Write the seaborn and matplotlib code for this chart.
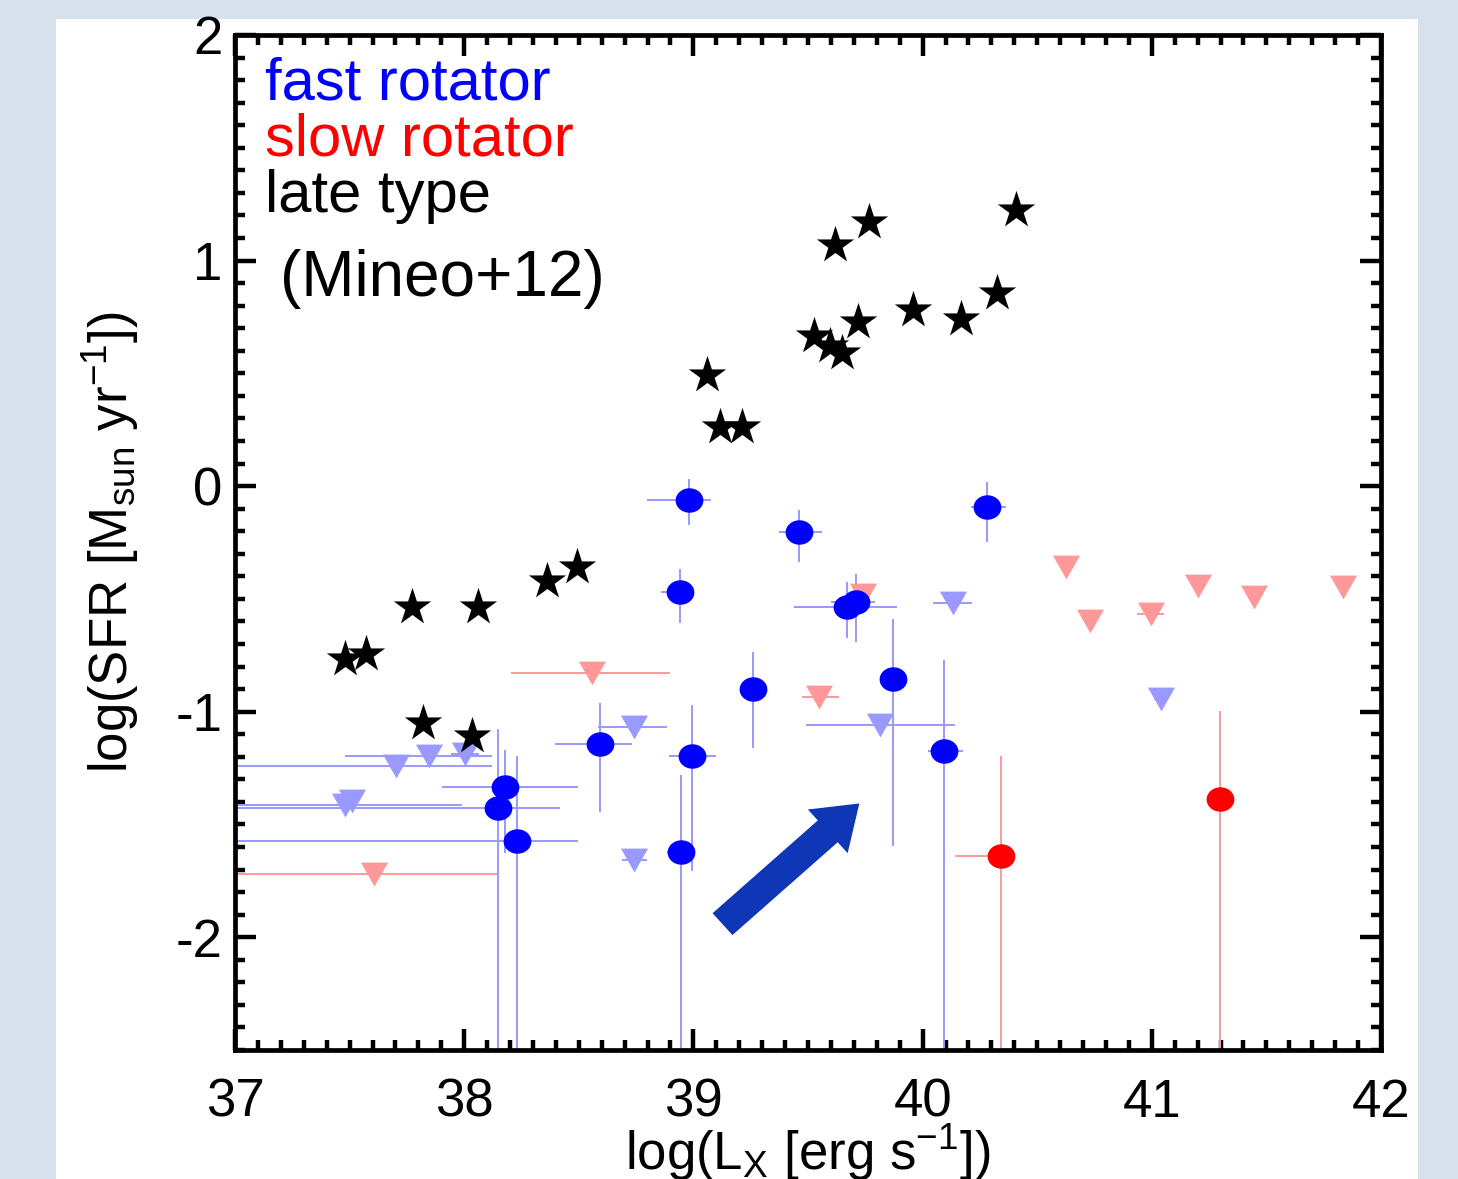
import numpy as np
import pandas as pd
import matplotlib.pyplot as plt
import seaborn as sns
from matplotlib.path import Path
from matplotlib.patches import Rectangle, FancyArrow
from matplotlib.ticker import MultipleLocator

sns.set_theme(style="white")
plt.rcParams["font.family"] = ["Liberation Sans", "DejaVu Sans"]
plt.rcParams["mathtext.fontset"] = "custom"
plt.rcParams["mathtext.rm"] = "Liberation Sans"
plt.rcParams["mathtext.it"] = "Liberation Sans:italic"
plt.rcParams["axes.unicode_minus"] = False
for key in ["text.color", "axes.labelcolor", "xtick.color", "ytick.color"]:
    plt.rcParams[key] = "black"

# fast rotators with detections (log Lx, log SFR, errors)
fast_x = [38.979, 39.459, 38.940, 40.282, 39.672, 39.711, 39.258, 39.873,
          40.095, 38.992, 38.944, 38.591, 38.177, 38.146, 38.229]
fast_y = [-0.062, -0.204, -0.469, -0.093, -0.535, -0.513, -0.898, -0.854,
          -1.173, -1.195, -1.624, -1.142, -1.336, -1.429, -1.575]
fast_xlo = [0.183, 0.087, 0.083, 0.070, 0.231, 0.109, 0.0, 0.055,
            0.070, 0.100, 0.060, 0.196, 0.275, 1.300, 1.400]
fast_xhi = [0.096, 0.100, 0.057, 0.083, 0.218, 0.083, 0.0, 0.055,
            0.083, 0.105, 0.050, 0.140, 0.318, 0.270, 0.266]
fast_ylo = [0.110, 0.133, 0.137, 0.155, 0.137, 0.177, 0.265, 0.743,
            1.500, 0.513, 1.000, 0.305, 0.292, 1.200, 1.000]
fast_yhi = [0.093, 0.097, 0.100, 0.110, 0.110, 0.124, 0.164, 0.265,
            0.400, 0.226, 0.345, 0.180, 0.164, 0.350, 0.380]

# fast rotators, upper limits
fastlim_x = [37.702, 37.846, 38.003, 37.480, 37.510, 38.739, 38.739,
             39.816, 40.134, 41.041]
fastlim_y = [-1.239, -1.195, -1.186, -1.416, -1.398, -1.066, -1.659,
             -1.058, -0.518, -0.942]
fastlim_xlo = [0.800, 0.366, 0.060, 0.600, 0.0, 0.157, 0.052, 0.323, 0.087, 0.030]
fastlim_xhi = [0.418, 0.275, 0.060, 0.510, 0.0, 0.144, 0.057, 0.327, 0.083, 0.030]

# slow rotators with detections
slow_x = [40.343, 41.298]
slow_y = [-1.642, -1.385]
slow_xlo = [0.200, 0.0]
slow_xhi = [0.0, 0.0]
slow_ylo = [1.000, 1.200]
slow_yhi = [0.447, 0.390]

# slow rotators, upper limits
slowlim_x = [38.556, 37.606, 39.550, 39.742, 40.627, 40.731, 40.997,
             41.202, 41.446, 41.834]
slowlim_y = [-0.827, -1.721, -0.934, -0.482, -0.358, -0.597, -0.566,
             -0.442, -0.491, -0.447]
slowlim_xlo = [0.353, 0.700, 0.078, 0.0, 0.0, 0.0, 0.060, 0.0, 0.0, 0.0]
slowlim_xhi = [0.340, 0.536, 0.087, 0.0, 0.0, 0.0, 0.057, 0.0, 0.0, 0.0]

# late type galaxies (Mineo+12)
late_x = [37.480, 37.571, 37.772, 38.059, 38.360, 38.491, 37.820, 38.033,
          39.058, 39.114, 39.210, 39.528, 39.594, 39.650, 39.616, 39.768,
          39.720, 39.956, 40.169, 40.326, 40.409]
late_y = [-0.765, -0.743, -0.535, -0.535, -0.420, -0.358, -1.049, -1.106,
          0.491, 0.261, 0.261, 0.664, 0.619, 0.588, 1.071, 1.173,
          0.726, 0.783, 0.739, 0.854, 1.226]

legend_labels = ["fast rotator", "slow rotator", "late type"]
legend_colors = ["#0000ff", "#ff0000", "#000000"]

BLUE = "#0000ff"
RED = "#ff0000"
LBLUE = "#9999ff"
LRED = "#ff9999"

# slightly flattened markers, as in the original
t = np.linspace(0, 2 * np.pi, 60)
ellipse = Path(np.column_stack([np.cos(t), 0.88 * np.sin(t)]), closed=True)
tri_down = Path([(-1, 0.88), (1, 0.88), (0, -0.88), (-1, 0.88)], closed=True)

fig = plt.figure(figsize=(14.58, 11.79), dpi=100, facecolor="#d6e1eb")
fig.add_artist(Rectangle((56 / 1458, 0), (1418 - 56) / 1458, (1179 - 19) / 1179,
                         transform=fig.transFigure, facecolor="white",
                         edgecolor="none", zorder=-1))
ax = fig.add_axes([235 / 1458, 1 - 1050 / 1179, (1381 - 235) / 1458, (1050 - 35) / 1179])
ax.set_facecolor("white")

# error bars
ekw = dict(fmt="none", elinewidth=1.4, capsize=0, zorder=1)
ax.errorbar(fast_x, fast_y, xerr=[fast_xlo, fast_xhi], yerr=[fast_ylo, fast_yhi],
            ecolor=LBLUE, **ekw)
ax.errorbar(fastlim_x, fastlim_y, xerr=[fastlim_xlo, fastlim_xhi], ecolor=LBLUE, **ekw)
ax.errorbar(slow_x, slow_y, xerr=[slow_xlo, slow_xhi], yerr=[slow_ylo, slow_yhi],
            ecolor=LRED, **ekw)
ax.errorbar(slowlim_x, slowlim_y, xerr=[slowlim_xlo, slowlim_xhi], ecolor=LRED, **ekw)

# markers
sns.scatterplot(x=slowlim_x, y=slowlim_y, ax=ax, marker=tri_down, s=380,
                color=LRED, linewidth=0, zorder=2)
sns.scatterplot(x=fastlim_x, y=fastlim_y, ax=ax, marker=tri_down, s=380,
                color=LBLUE, linewidth=0, zorder=2)
sns.scatterplot(x=fast_x, y=fast_y, ax=ax, marker=ellipse, s=400,
                color=BLUE, linewidth=0, zorder=3)
sns.scatterplot(x=slow_x, y=slow_y, ax=ax, marker=ellipse, s=400,
                color=RED, linewidth=0, zorder=3)
sns.scatterplot(x=late_x, y=late_y, ax=ax, marker="*", s=800,
                color="black", linewidth=0, zorder=4)

# arrow
ax.add_patch(FancyArrow(39.127, -1.942, 0.597, 0.535, width=0.13, head_width=0.26,
                        head_length=0.185, length_includes_head=True,
                        color="#0f36b6", linewidth=0, zorder=5))

# legend as coloured text
for i, (lab, col) in enumerate(zip(legend_labels, legend_colors)):
    ax.text(37.13, 1.716 - i * 0.25, lab, color=col, fontsize=43, va="baseline")
ax.text(37.196, 0.841, "(Mineo+12)", color="black", fontsize=46, va="baseline")

ax.set_xlim(37, 42)
ax.set_ylim(-2.5, 2)
ax.xaxis.set_major_locator(MultipleLocator(1))
ax.xaxis.set_minor_locator(MultipleLocator(0.1))
ax.yaxis.set_major_locator(MultipleLocator(1))
ax.yaxis.set_minor_locator(MultipleLocator(0.1))
ax.tick_params(which="both", direction="in", top=True, right=True, bottom=True,
               left=True, width=3.2, color="black")
ax.tick_params(which="major", length=15)
ax.tick_params(which="minor", length=7)
ax.tick_params(axis="x", which="major", labelsize=38, pad=20)
ax.tick_params(axis="y", which="major", labelsize=38, pad=9)
for sp in ax.spines.values():
    sp.set_linewidth(3.4)
    sp.set_color("black")

ax.set_xlabel(r"log(L$_\mathrm{X}$ [erg s$^{-1}$])", fontsize=38)
ax.set_ylabel(r"log(SFR [M$_\mathrm{sun}$ yr$^{-1}$])", fontsize=38)
ax.xaxis.set_label_coords(0.5, -0.1182)
ax.xaxis.label.set_va("baseline")
ax.yaxis.set_label_coords(-0.0934, 0.5)
ax.yaxis.label.set_va("baseline")

fig.savefig("out.png", dpi=100, facecolor=fig.get_facecolor())
